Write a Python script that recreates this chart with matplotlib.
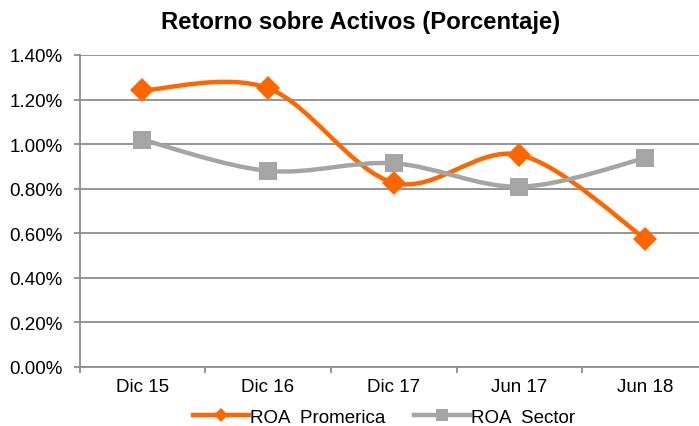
import numpy as np
import matplotlib
matplotlib.use("Agg")
import matplotlib.pyplot as plt
from matplotlib.path import Path
from matplotlib.patches import PathPatch
from matplotlib.lines import Line2D
from matplotlib.ticker import FuncFormatter, MultipleLocator, FixedLocator

categories = ["Dic 15", "Dic 16", "Dic 17", "Jun 17", "Jun 18"]
roa_promerica = [1.241, 1.251, 0.827, 0.952, 0.576]
roa_sector = [1.020, 0.880, 0.914, 0.809, 0.937]
title = "Retorno sobre Activos (Porcentaje)"
labels = ["ROA  Promerica", "ROA  Sector"]

ORANGE = "#FF6600"
GRAY = "#A5A5A5"
GRID = "#8C8C8C"

plt.rcParams["font.family"] = ["Liberation Sans", "DejaVu Sans"]

fig = plt.figure(figsize=(6.99, 4.27), dpi=100)
ax = fig.add_axes([79.5 / 699, 1 - 368 / 427, (708 - 79.5) / 699, (368 - 56) / 427])


def smooth_path(xs, ys):
    pts = np.column_stack([xs, ys]).astype(float)
    n = len(pts)
    verts = [pts[0]]
    codes = [Path.MOVETO]
    for i in range(n - 1):
        p0 = pts[i - 1] if i > 0 else pts[i]
        p1 = pts[i]
        p2 = pts[i + 1]
        p3 = pts[i + 2] if i + 2 < n else pts[i + 1]
        c1 = p1 + (p2 - p0) / 6.0
        c2 = p2 - (p3 - p1) / 6.0
        verts += [c1, c2, p2]
        codes += [Path.CURVE4] * 3
    return Path(verts, codes)


x = np.arange(len(categories))
series = [(roa_promerica, ORANGE, "D", 12.5), (roa_sector, GRAY, "s", 13.5)]
for vals, col, mk, ms in series:
    patch = PathPatch(smooth_path(x, vals), facecolor="none", edgecolor=col,
                      lw=3.2, capstyle="round", joinstyle="round", zorder=3)
    ax.add_patch(patch)
    ax.plot(x, vals, linestyle="none", marker=mk, markersize=ms, color=col,
            markeredgewidth=0, zorder=4, clip_on=False)

ax.set_xlim(-0.5, len(categories) - 0.5)
ax.set_ylim(0, 1.4)
ax.yaxis.set_major_locator(MultipleLocator(0.2))
ax.yaxis.set_major_formatter(FuncFormatter(lambda v, p: f"{v:.2f}%"))
ax.set_xticks(x)
ax.set_xticklabels(categories)
ax.xaxis.set_minor_locator(FixedLocator(np.arange(-0.5, len(categories), 1.0)))
ax.tick_params(axis="x", which="major", length=0, pad=8, labelsize=13.5)
ax.tick_params(axis="x", which="minor", length=4, width=1.3, color=GRID, direction="out")
ax.tick_params(axis="y", length=4, width=1.3, color=GRID, direction="out", pad=8, labelsize=13.5)

ax.grid(axis="y", color=GRID, lw=1.3, zorder=1)
ax.set_axisbelow(True)
for s in ["top", "right"]:
    ax.spines[s].set_visible(False)
for s in ["left", "bottom"]:
    ax.spines[s].set_color(GRID)
    ax.spines[s].set_linewidth(1.3)

fig.text(361 / 699, 1 - 22 / 427, title, ha="center", va="center",
         fontsize=17.2, fontweight="bold")

handles = [
    Line2D([], [], color=ORANGE, lw=3.2, marker="D", markersize=7, markeredgewidth=0),
    Line2D([], [], color=GRAY, lw=3.2, marker="s", markersize=8, markeredgewidth=0),
]
fig.legend(handles, labels, loc="center", bbox_to_anchor=(384 / 699, 1 - 418 / 427),
           ncol=2, frameon=False, fontsize=13.5, handlelength=3.0, handletextpad=0.05,
           columnspacing=1.5, borderpad=0)

fig.savefig("out.png", dpi=100)
